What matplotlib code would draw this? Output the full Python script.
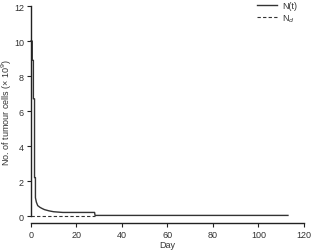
import matplotlib
matplotlib.use("Agg")
import matplotlib.pyplot as plt

plt.rcParams['font.family'] = ['Liberation Sans', 'DejaVu Sans']

# tumour cell count N(t) (x 10^9)
days = [0, 0.6, 0.6, 1.1, 1.1, 1.6, 1.6, 2.0, 2.0, 2.4, 3.0, 4.0, 5.0, 6.0, 8.0, 10.0, 14.0, 28.0, 28.2, 113.0]
cells = [10.0, 10.0, 8.9, 8.9, 6.7, 6.7, 2.2, 2.2, 1.05, 0.8, 0.6, 0.5, 0.43, 0.37, 0.3, 0.25, 0.21, 0.21, 0.04, 0.04]

# detection threshold N_d
nd_days = [0, 28]
nd_vals = [0.03, 0.03]

xticks = [0, 20, 40, 60, 80, 100, 120]
yticks = [0, 2, 4, 6, 8, 10, 12]

fig = plt.figure(figsize=(3.12, 2.51), dpi=100)
ax = fig.add_axes([0.099, 0.135, 0.875, 0.837])

ax.plot(days, cells, color='#333333', lw=1.0, label='N(t)', clip_on=False)
ax.plot(nd_days, nd_vals, color='#333333', lw=0.8, ls=(0, (3, 2)), label='N$_d$', clip_on=False)

ax.set_xlim(0, 120)
ax.set_ylim(0, 12)
ax.set_xticks(xticks)
ax.set_yticks(yticks)
ax.spines['top'].set_visible(False)
ax.spines['right'].set_visible(False)
ax.spines['bottom'].set_position(('outward', 5))
for s in ('left', 'bottom'):
    ax.spines[s].set_linewidth(1.0)
    ax.spines[s].set_color('#222222')
ax.tick_params(labelsize=6.5, length=3, width=0.8, colors='#222222', labelcolor='#333333', pad=2)

ax.set_xlabel('Day', fontsize=6.5, color='#333333', labelpad=1)
ax.set_ylabel('No. of tumour cells (× 10$^9$)', fontsize=6.5, color='#333333')
ax.yaxis.set_label_coords(-0.062, 0.5)

leg = ax.legend(loc='upper left', bbox_to_anchor=(0.828, 1.022), frameon=False, fontsize=6.5,
                handlelength=2.2, handletextpad=0.6, labelspacing=0.2,
                borderpad=0, borderaxespad=0)
for t in leg.get_texts():
    t.set_color('#333333')

fig.savefig('out.png', dpi=100)
